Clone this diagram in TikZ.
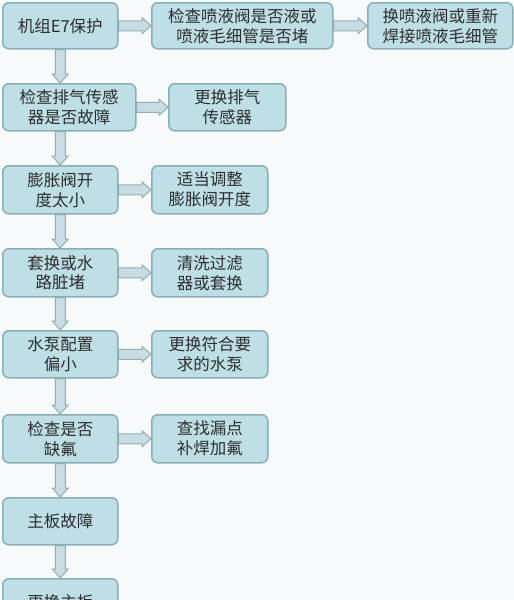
\documentclass[tikz,border=0pt]{standalone}
\usepackage{fontspec}
\newfontfamily\cjk{Noto Sans CJK SC}
\usetikzlibrary{calc}
\definecolor{bg}{HTML}{F7FAFB}
\definecolor{boxfill}{HTML}{BEDFE5}
\definecolor{boxline}{HTML}{8AAEB6}
\definecolor{arrfill}{HTML}{C7DDE3}
\definecolor{arrline}{HTML}{94ADB4}
\definecolor{txt}{HTML}{2E2E2E}
\begin{document}
\begin{tikzpicture}[x=1pt,y=-1pt,
 box/.style={draw=boxline, fill=boxfill, line width=1.5pt, rounded corners=6pt,
   anchor=north west, inner sep=0pt, align=center, text=txt,
   font=\cjk\fontsize{16.5}{20}\selectfont},
 narrowbox/.style={box, minimum width=115pt, minimum height=46pt},
 darrow/.style={draw=arrline, fill=arrfill, line width=1pt,
   to path={let \p1=(\tikztostart), \p2=(\tikztotarget) in
     (\x1-5pt,\y1) -- (\x1+5pt,\y1) -- (\x1+5pt,\y2+9pt) -- (\x1+8pt,\y2+9pt)
     -- (\x1,\y2) -- (\x1-8pt,\y2+9pt) -- (\x1-5pt,\y2+9pt) -- cycle}},
 rarrow/.style={draw=arrline, fill=arrfill, line width=1pt,
   to path={let \p1=(\tikztostart), \p2=(\tikztotarget) in
     (\x1,\y1+5pt) -- (\x1,\y1-5pt) -- (\x2-9pt,\y1-5pt) -- (\x2-9pt,\y1-8pt)
     -- (\x2,\y1) -- (\x2-9pt,\y1+8pt) -- (\x2-9pt,\y1+5pt) -- cycle}}
]
\useasboundingbox (0,0) rectangle (514,600);
\clip (0,0) rectangle (514,600);
\fill[bg] (0,0) rectangle (514,600);

\node[narrowbox] (b1) at (2,2) {机组E7保护};
\node[box, minimum width=181pt, minimum height=46pt] (b2) at (151,2) {检查喷液阀是否液或\\喷液毛细管是否堵};
\node[box, minimum width=145pt, minimum height=46pt] (b3) at (367,2) {换喷液阀或重新\\焊接喷液毛细管};

\node[box, minimum width=133pt, minimum height=47pt] (c1) at (2,83) {检查排气传感\\器是否故障};
\node[box, minimum width=117pt, minimum height=47pt] (c2) at (168,83) {更换排气\\传感器};

\node[narrowbox, minimum height=48pt] (d1) at (2,165) {膨胀阀开\\度太小};
\node[box, minimum width=116pt, minimum height=48pt] (d2) at (151,165) {适当调整\\膨胀阀开度};

\node[narrowbox, minimum height=48pt] (e1) at (2,248) {套换或水\\路脏堵};
\node[box, minimum width=116pt, minimum height=48pt] (e2) at (151,248) {清洗过滤\\器或套换};

\node[narrowbox, minimum height=47pt] (f1) at (2,330) {水泵配置\\偏小};
\node[box, minimum width=116pt, minimum height=47pt] (f2) at (151,330) {更换符合要\\求的水泵};

\node[narrowbox, minimum height=48pt] (g1) at (2,414) {检查是否\\缺氟};
\node[box, minimum width=116pt, minimum height=48pt] (g2) at (151,414) {查找漏点\\补焊加氟};

\node[narrowbox, minimum height=47pt] (h1) at (2,497) {主板故障};
\node[narrowbox, minimum height=47pt] (i1) at (2,578) {更换主板};

\draw[rarrow] (b1.east) to (b2.west);
\draw[rarrow] (b2.east) to (b3.west);
\draw[rarrow] (c1.east) to (c2.west);
\draw[rarrow] (d1.east) to (d2.west);
\draw[rarrow] (e1.east) to (e2.west);
\draw[rarrow] (f1.east) to (f2.west);
\draw[rarrow] (g1.east) to (g2.west);

\draw[darrow] (b1.south) to (c1.north -| b1.south);
\draw[darrow] (c1.south -| b1.south) to (d1.north);
\draw[darrow] (d1.south) to (e1.north);
\draw[darrow] (e1.south) to (f1.north);
\draw[darrow] (f1.south) to (g1.north);
\draw[darrow] (g1.south) to (h1.north);
\draw[darrow] (h1.south) to (i1.north);
\end{tikzpicture}
\end{document}
